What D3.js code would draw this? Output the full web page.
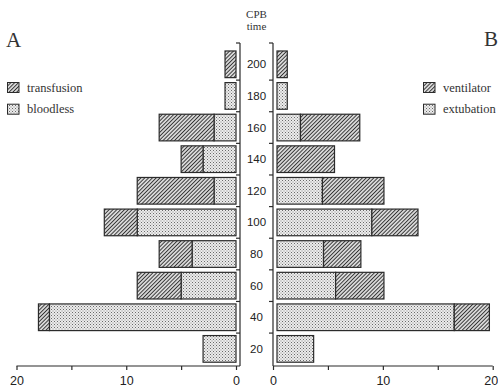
<!DOCTYPE html>
<html>
<head>
<meta charset="utf-8">
<script src="https://cdn.jsdelivr.net/npm/d3@7"></script>
<style>
  html, body { margin: 0; padding: 0; background: #fff; }
  svg { display: block; }
</style>
</head>
<body>
<svg id="chart" width="498" height="392"></svg>
<script>
// CPB time classes, top to bottom
var cpbTime = [200, 180, 160, 140, 120, 100, 80, 60, 40, 20];

// panel A: transfusion vs bloodless (patients)
var bloodless   = [0, 1, 2, 3, 2, 9, 4, 5, 17, 3];
var transfusion = [1, 0, 5, 2, 7, 3, 3, 4, 1, 0];

// panel B: extubation vs ventilator
var extubation = [0, 1.3, 2.5, 0, 4.5, 9.0, 4.6, 5.7, 16.5, 3.7];
var ventilator = [1.3, 0, 5.4, 5.6, 5.6, 4.2, 3.4, 4.4, 3.2, 0];

var xTicks = [0, 5, 10, 15, 20];

var svg = d3.select("#chart");
var serif = "'Liberation Serif', 'DejaVu Serif', serif";
var sans = "'Liberation Sans', Arial, sans-serif";
var ink = "#2b2b2b";

// fill patterns: diagonal hatch and stipple
var defs = svg.append("defs");
var hatch = defs.append("pattern")
    .attr("id", "hatch")
    .attr("patternUnits", "userSpaceOnUse")
    .attr("width", 2.7).attr("height", 2.7)
    .attr("patternTransform", "rotate(45)");
hatch.append("rect").attr("width", 2.7).attr("height", 2.7).attr("fill", "#fff");
hatch.append("line")
    .attr("x1", 1.35).attr("y1", 0).attr("x2", 1.35).attr("y2", 2.7)
    .attr("stroke", "#333").attr("stroke-width", 1.25);

var dots = defs.append("pattern")
    .attr("id", "dots")
    .attr("patternUnits", "userSpaceOnUse")
    .attr("width", 3).attr("height", 3);
dots.append("rect").attr("width", 3).attr("height", 3).attr("fill", "#ececec");
dots.append("rect").attr("x", 0).attr("y", 0).attr("width", 1).attr("height", 1).attr("fill", "#6a6a6a");
dots.append("rect").attr("x", 1.5).attr("y", 1.5).attr("width", 1).attr("height", 1).attr("fill", "#8a8a8a");

// scales
var y = d3.scaleBand()
    .domain(cpbTime)
    .range([48.5, 364.7])
    .paddingInner(0.157)
    .paddingOuter(0.0785);

var xL = d3.scaleLinear().domain([0, 20]).range([236, 16.5]);
var xR = d3.scaleLinear().domain([0, 20]).range([273, 492.7]);

var axisLx = xL(0) + 4,   // vertical axis of panel A
    axisRx = xR(0),       // vertical axis of panel B
    gapR = 4,             // bars of panel B start a little right of the axis
    axisTop = 43,
    axisBottom = 366;

var rowsA = cpbTime.map(function(t, i) {
  return {time: t, bloodless: bloodless[i], transfusion: transfusion[i]};
});
var rowsB = cpbTime.map(function(t, i) {
  return {time: t, extubation: extubation[i], ventilator: ventilator[i]};
});

var stackA = d3.stack().keys(["bloodless", "transfusion"])(rowsA);
var stackB = d3.stack().keys(["extubation", "ventilator"])(rowsB);
var fillOf = {bloodless: "url(#dots)", transfusion: "url(#hatch)",
              extubation: "url(#dots)", ventilator: "url(#hatch)"};

// panel A bars (grow to the left)
svg.append("g").selectAll("g")
    .data(stackA)
  .enter().append("g")
    .attr("fill", function(s) { return fillOf[s.key]; })
  .selectAll("rect")
    .data(function(s) { return s.filter(function(d) { return d[1] > d[0]; }); })
  .enter().append("rect")
    .attr("x", function(d) { return xL(d[1]); })
    .attr("y", function(d) { return y(d.data.time); })
    .attr("width", function(d) { return xL(d[0]) - xL(d[1]); })
    .attr("height", y.bandwidth())
    .attr("stroke", ink)
    .attr("stroke-width", 1.2);

// panel B bars (grow to the right)
svg.append("g").selectAll("g")
    .data(stackB)
  .enter().append("g")
    .attr("fill", function(s) { return fillOf[s.key]; })
  .selectAll("rect")
    .data(function(s) { return s.filter(function(d) { return d[1] > d[0]; }); })
  .enter().append("rect")
    .attr("x", function(d) { return d[0] === 0 ? xR(0) + gapR : xR(d[0]); })
    .attr("y", function(d) { return y(d.data.time); })
    .attr("width", function(d) { return xR(d[1]) - (d[0] === 0 ? xR(0) + gapR : xR(d[0])); })
    .attr("height", y.bandwidth())
    .attr("stroke", ink)
    .attr("stroke-width", 1.2);

// vertical axes with ticks between the classes
var bounds = [axisTop].concat(cpbTime.slice(1).map(function(t) {
  return y(t) - y.step() * y.paddingInner() / 2;
}));
[axisLx, axisRx].forEach(function(ax) {
  var g = svg.append("g").attr("stroke", ink).attr("stroke-width", 1.2);
  g.append("line")
      .attr("x1", ax).attr("x2", ax)
      .attr("y1", axisTop).attr("y2", axisBottom);
  g.selectAll(".tk")
      .data(bounds)
    .enter().append("line")
      .attr("x1", ax - 4).attr("x2", ax)
      .attr("y1", function(d) { return d; })
      .attr("y2", function(d) { return d; });
});

// class labels in the middle
svg.append("g").selectAll("text")
    .data(cpbTime)
  .enter().append("text")
    .attr("x", (axisLx + axisRx) / 2)
    .attr("y", function(d) { return y(d) + y.bandwidth() / 2 + 4; })
    .attr("text-anchor", "middle")
    .style("font-family", sans)
    .style("font-size", "11.5px")
    .attr("fill", "#222")
    .text(function(d) { return d; });

svg.append("text")
    .attr("x", 256.5).attr("y", 17.5)
    .attr("text-anchor", "middle")
    .style("font-family", serif).style("font-size", "11px")
    .attr("fill", "#333")
    .text("CPB");
svg.append("text")
    .attr("x", 256.5).attr("y", 30)
    .attr("text-anchor", "middle")
    .style("font-family", serif).style("font-size", "11px")
    .attr("fill", "#333")
    .text("time");

// horizontal axes
function xAxis(scale, fromX) {
  var g = svg.append("g")
      .attr("transform", "translate(0," + axisBottom + ")")
      .call(d3.axisBottom(scale)
        .tickValues(xTicks)
        .tickSize(4)
        .tickSizeOuter(0)
        .tickFormat(function(d) { return d % 10 === 0 ? d : ""; }));
  g.select(".domain").remove();
  g.append("line")
      .attr("x1", fromX).attr("x2", scale(20))
      .attr("stroke", ink).attr("stroke-width", 1.2);
  g.selectAll(".tick line").attr("stroke", ink).attr("stroke-width", 1.2);
  g.selectAll(".tick text")
      .attr("y", 10)
      .style("font-family", sans)
      .style("font-size", "12.5px")
      .attr("fill", "#222");
  return g;
}
xAxis(xL, axisLx);
var gR = xAxis(xR, axisRx);
// keep the last label of panel B inside the page
gR.selectAll(".tick text")
    .filter(function(d) { return d === 20; })
    .attr("text-anchor", "end")
    .attr("x", 5);

// panel letters
svg.append("text").attr("x", 6).attr("y", 47)
    .style("font-family", serif).style("font-size", "21px")
    .attr("fill", "#333").text("A");
svg.append("text").attr("x", 484).attr("y", 46)
    .style("font-family", serif).style("font-size", "21px")
    .attr("fill", "#333").text("B");

// legends
function legend(x, items) {
  var g = svg.append("g");
  items.forEach(function(it, i) {
    var top = 82.5 + i * 21.7;
    g.append("rect")
        .attr("x", x).attr("y", top)
        .attr("width", 11.5).attr("height", 10)
        .attr("fill", it.fill)
        .attr("stroke", ink).attr("stroke-width", 1);
    g.append("text")
        .attr("x", x + 19.5).attr("y", top + 9)
        .style("font-family", serif)
        .style("font-size", "12.5px")
        .attr("fill", "#333")
        .text(it.label);
  });
}
legend(7.5, [{label: "transfusion", fill: "url(#hatch)"},
             {label: "bloodless", fill: "url(#dots)"}]);
legend(423.5, [{label: "ventilator", fill: "url(#hatch)"},
               {label: "extubation", fill: "url(#dots)"}]);
</script>
</body>
</html>
